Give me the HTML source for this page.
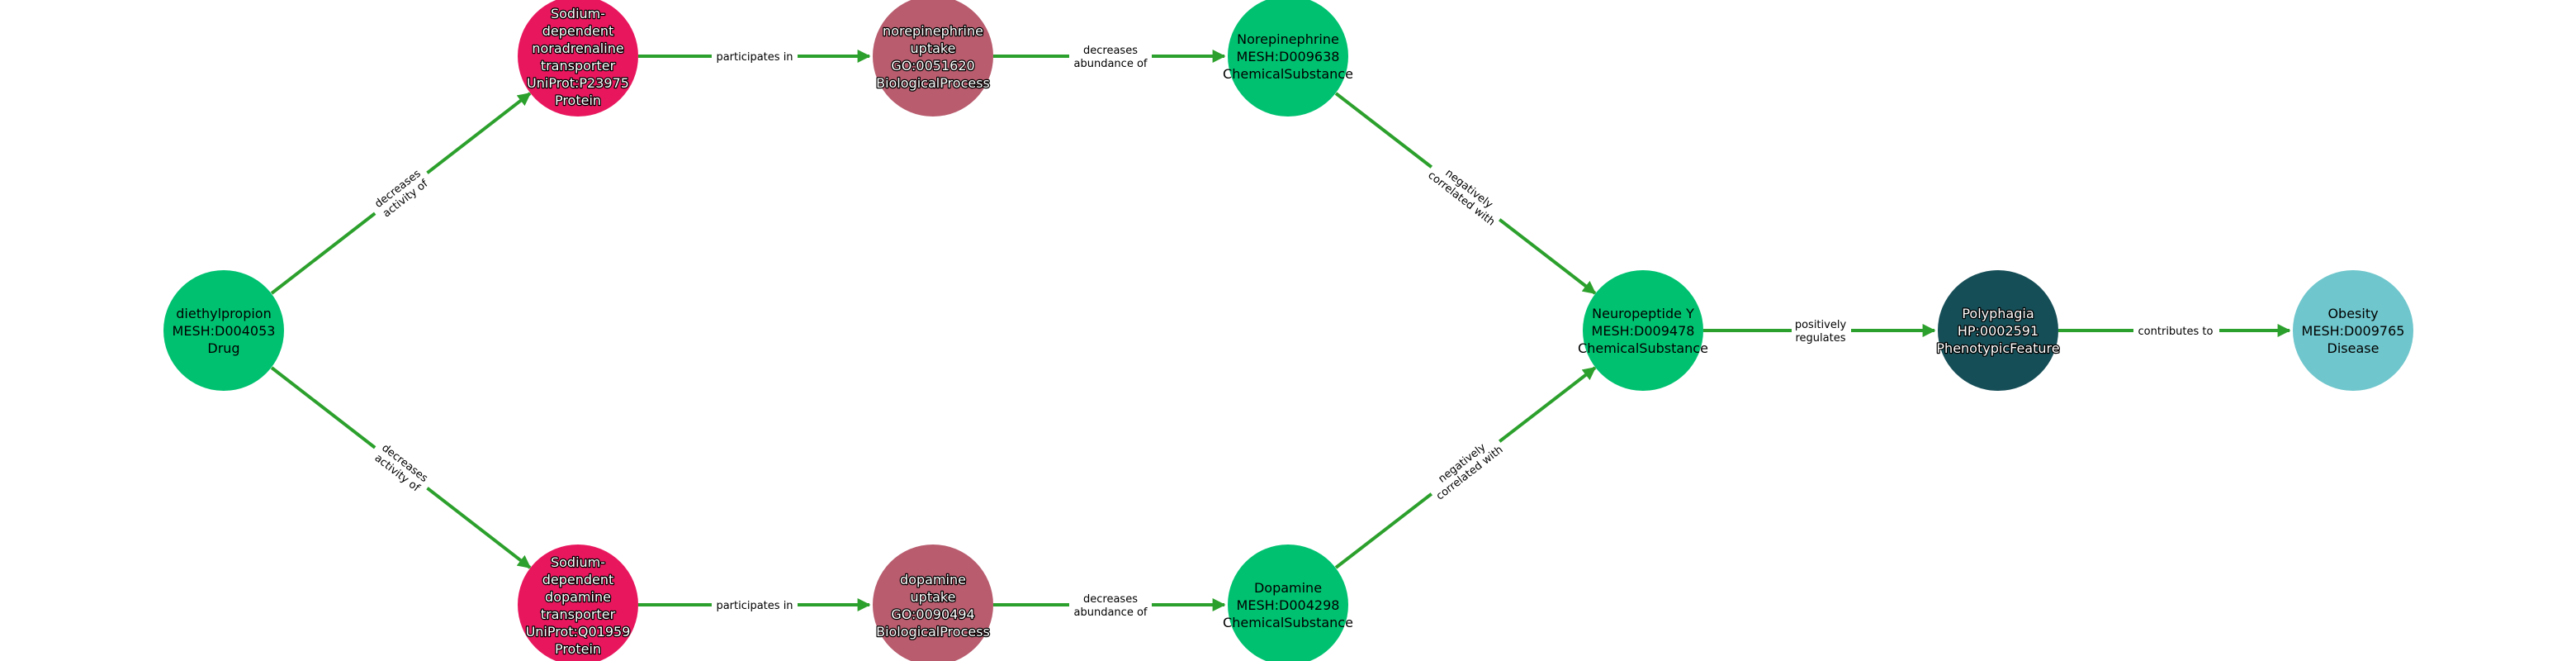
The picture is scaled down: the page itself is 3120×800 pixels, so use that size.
<!DOCTYPE html>
<html><head><meta charset="utf-8"><style>
html,body{margin:0;padding:0;background:#fff;}
svg{display:block;font-family:"DejaVu Sans","Liberation Sans",sans-serif;}
.n{font-size:16px;text-anchor:middle;}
.w{fill:#fff;stroke:#000;stroke-width:2.5px;paint-order:stroke;stroke-linejoin:round;}
.b{fill:#000;}
.e{stroke:#2ca02c;stroke-width:4;fill:none;}
.l{font-size:13px;text-anchor:middle;fill:#000;}
</style></head><body>
<svg width="3120" height="800" viewBox="0 0 3120 800" xmlns="http://www.w3.org/2000/svg">
<defs>
<marker id="a" viewBox="0 0 10 10" refX="9" refY="5" markerWidth="4" markerHeight="4" orient="auto" markerUnits="strokeWidth">
<path d="M0,0 L10,5 L0,10 z" fill="#2ca02c"/></marker>
</defs>
<!-- edges -->
<g class="e">
<line x1="329" y1="355" x2="642" y2="113" marker-end="url(#a)"/>
<line x1="329" y1="445" x2="642" y2="687" marker-end="url(#a)"/>
<line x1="773" y1="68" x2="1053" y2="68" marker-end="url(#a)"/>
<line x1="773" y1="732" x2="1053" y2="732" marker-end="url(#a)"/>
<line x1="1203" y1="68" x2="1483" y2="68" marker-end="url(#a)"/>
<line x1="1203" y1="732" x2="1483" y2="732" marker-end="url(#a)"/>
<line x1="1618" y1="113" x2="1932" y2="355" marker-end="url(#a)"/>
<line x1="1618" y1="687" x2="1932" y2="445" marker-end="url(#a)"/>
<line x1="2063" y1="400" x2="2343" y2="400" marker-end="url(#a)"/>
<line x1="2493" y1="400" x2="2773" y2="400" marker-end="url(#a)"/>
</g>
<!-- edge labels -->
<g class="l">
<g transform="translate(486,234) rotate(-37.7)"><rect x="-40" y="-17" width="80" height="34" fill="#fff"/><text y="-3">decreases</text><text y="12">activity of</text></g>
<g transform="translate(486,566) rotate(37.7)"><rect x="-40" y="-17" width="80" height="34" fill="#fff"/><text y="-3">decreases</text><text y="12">activity of</text></g>
<rect x="862" y="58" width="104" height="20" fill="#fff"/><text x="914" y="73">participates in</text>
<rect x="862" y="722" width="104" height="20" fill="#fff"/><text x="914" y="737">participates in</text>
<rect x="1295" y="50" width="100" height="36" fill="#fff"/><text x="1345" y="65">decreases</text><text x="1345" y="81">abundance of</text>
<rect x="1295" y="714" width="100" height="36" fill="#fff"/><text x="1345" y="729">decreases</text><text x="1345" y="745">abundance of</text>
<g transform="translate(1775,234) rotate(37.7)"><rect x="-52" y="-17" width="104" height="34" fill="#fff"/><text y="-3">negatively</text><text y="12">correlated with</text></g>
<g transform="translate(1775,566) rotate(-37.7)"><rect x="-52" y="-17" width="104" height="34" fill="#fff"/><text y="-3">negatively</text><text y="12">correlated with</text></g>
<rect x="2170" y="382" width="72" height="36" fill="#fff"/><text x="2205" y="397">positively</text><text x="2205" y="413">regulates</text>
<rect x="2584" y="390" width="104" height="20" fill="#fff"/><text x="2635" y="405">contributes to</text>
</g>
<!-- nodes -->
<circle cx="271" cy="400" r="73" fill="#00c170"/>
<circle cx="700" cy="68" r="73" fill="#e8175d"/>
<circle cx="700" cy="732" r="73" fill="#e8175d"/>
<circle cx="1130" cy="68" r="73" fill="#b85c6e"/>
<circle cx="1130" cy="732" r="73" fill="#b85c6e"/>
<circle cx="1560" cy="68" r="73" fill="#00c170"/>
<circle cx="1560" cy="732" r="73" fill="#00c170"/>
<circle cx="1990" cy="400" r="73" fill="#00c170"/>
<circle cx="2420" cy="400" r="73" fill="#164e57"/>
<circle cx="2850" cy="400" r="73" fill="#6fc6cc"/>
<!-- node text -->
<g class="n b">
<text x="271" y="385">diethylpropion</text><text x="271" y="406">MESH:D004053</text><text x="271" y="427">Drug</text>
<text x="1560" y="53">Norepinephrine</text><text x="1560" y="74">MESH:D009638</text><text x="1560" y="95">ChemicalSubstance</text>
<text x="1560" y="717">Dopamine</text><text x="1560" y="738">MESH:D004298</text><text x="1560" y="759">ChemicalSubstance</text>
<text x="1990" y="385">Neuropeptide Y</text><text x="1990" y="406">MESH:D009478</text><text x="1990" y="427">ChemicalSubstance</text>
<text x="2850" y="385">Obesity</text><text x="2850" y="406">MESH:D009765</text><text x="2850" y="427">Disease</text>
</g>
<g class="n w">
<text x="700" y="22">Sodium-</text><text x="700" y="43">dependent</text><text x="700" y="64">noradrenaline</text><text x="700" y="85">transporter</text><text x="700" y="106">UniProt:P23975</text><text x="700" y="127">Protein</text>
<text x="700" y="686">Sodium-</text><text x="700" y="707">dependent</text><text x="700" y="728">dopamine</text><text x="700" y="749">transporter</text><text x="700" y="770">UniProt:Q01959</text><text x="700" y="791">Protein</text>
<text x="1130" y="43">norepinephrine</text><text x="1130" y="64">uptake</text><text x="1130" y="85">GO:0051620</text><text x="1130" y="106">BiologicalProcess</text>
<text x="1130" y="707">dopamine</text><text x="1130" y="728">uptake</text><text x="1130" y="749">GO:0090494</text><text x="1130" y="770">BiologicalProcess</text>
<text x="2420" y="385">Polyphagia</text><text x="2420" y="406">HP:0002591</text><text x="2420" y="427">PhenotypicFeature</text>
</g>
</svg>
</body></html>
